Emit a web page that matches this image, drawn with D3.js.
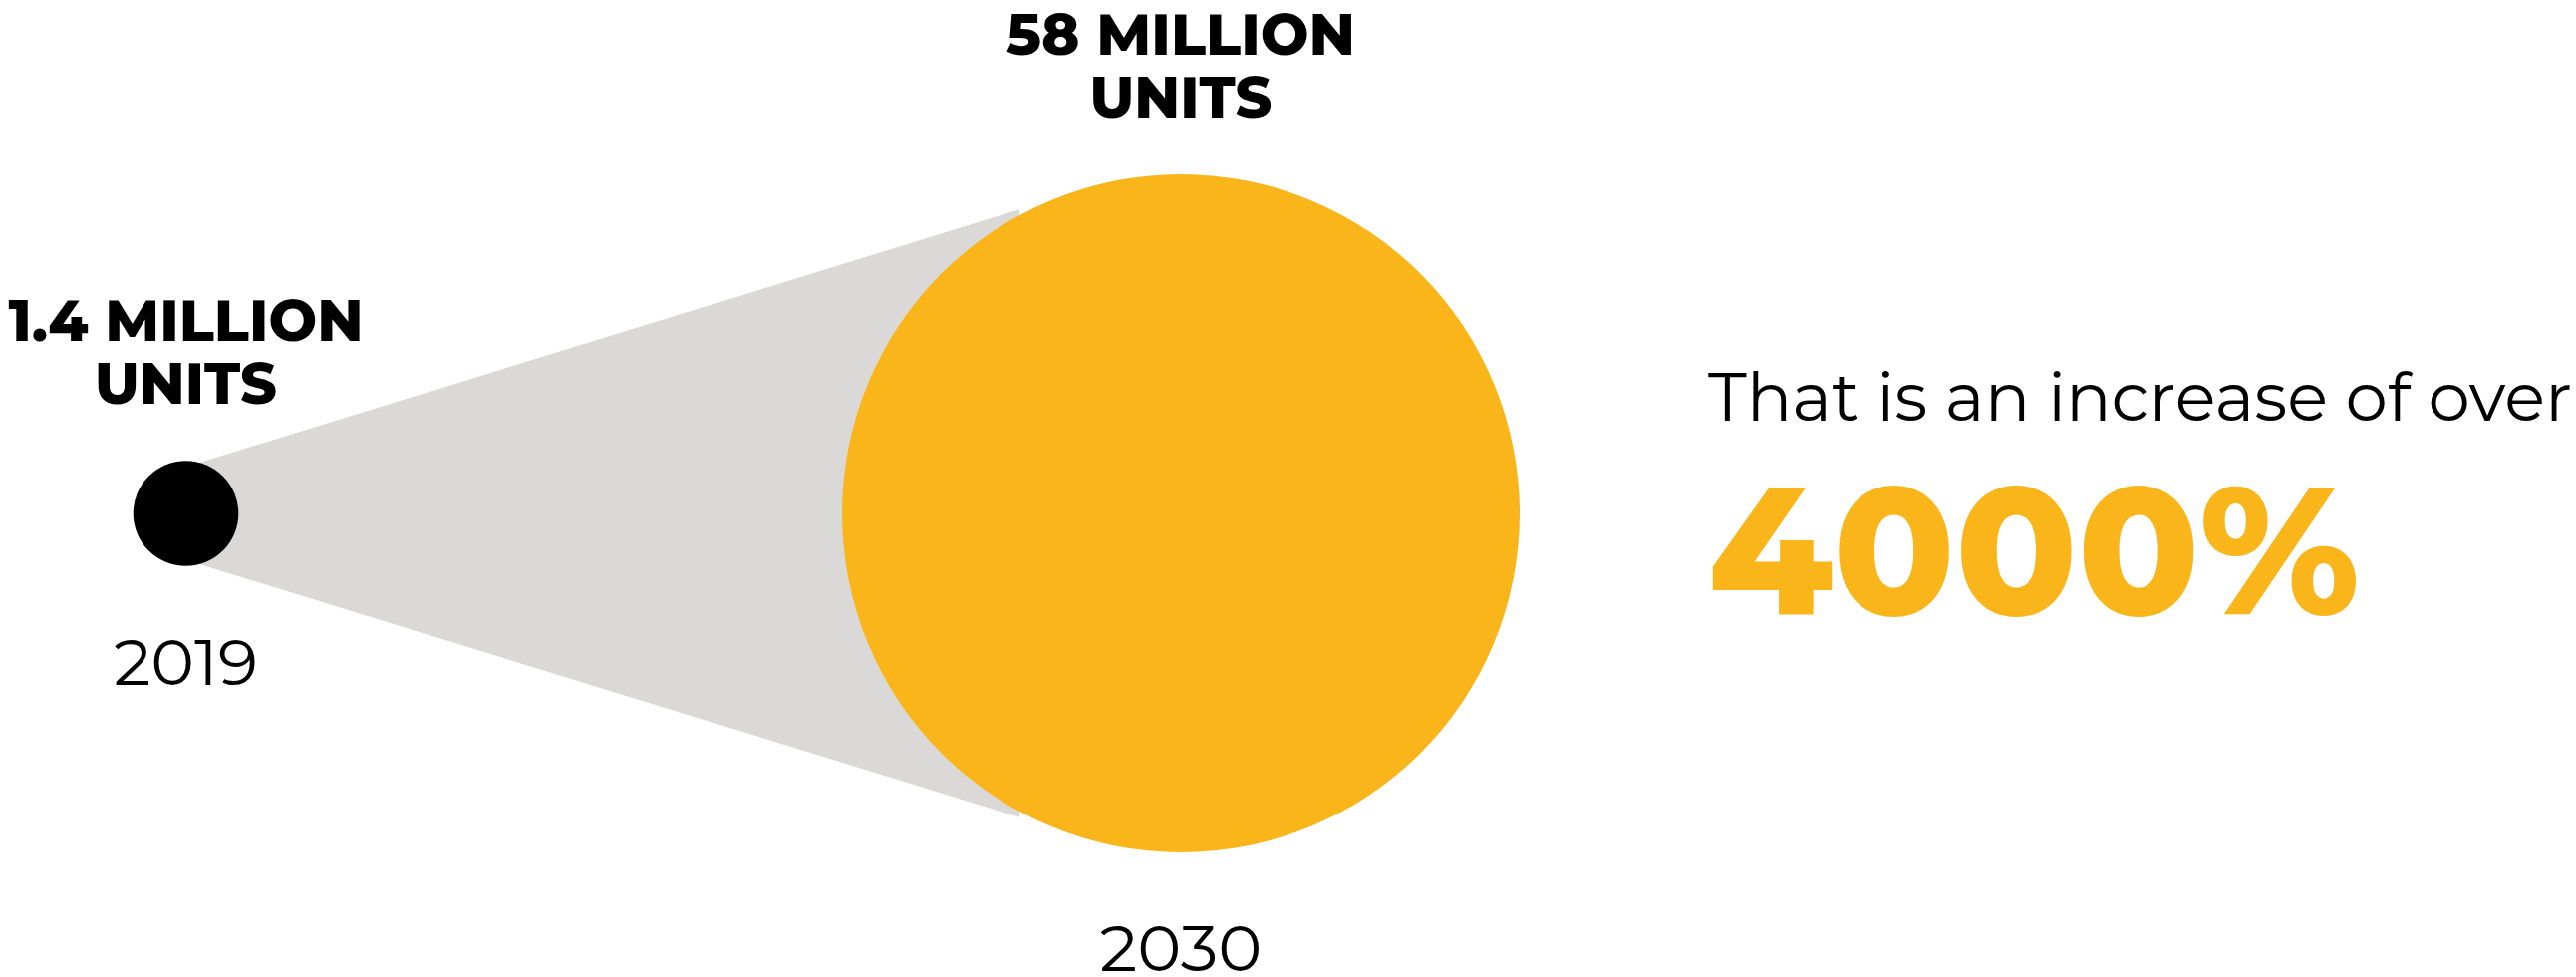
<!DOCTYPE html>
<html>
<head>
<meta charset="utf-8">
<script src="https://cdn.jsdelivr.net/npm/d3@7"></script>
<style>
  html, body { margin: 0; padding: 0; background: #fff; }
  svg { display: block; }
</style>
</head>
<body>
<div id="chart"></div>
<script>
const width = 2585;
const height = 980;

// data
const years = [2019, 2030];
const units = [1.4, 58];
const unitLabels = ['1.4 MILLION', '58 MILLION'];
const unitSuffix = 'UNITS';
const increaseText = 'That is an increase of over';
const increaseValue = '4000%';

const gold = '#f9b519';
const grey = '#dad9d7';
const boldFont = 'Montserrat, Inter, "DejaVu Sans", sans-serif';
const lightFont = 'Montserrat, Inter, "Open Sans", sans-serif';

// widths of the original (wider) typeface
const labelWidths = { '1.4 MILLION': 356, '58 MILLION': 350, 'UNITS': 183, '2019': 145, '2030': 163 };

const cy = 515;

const x = d3.scaleLinear()
  .domain(years)
  .range([186.5, 1185]);

const r = d3.scaleSqrt()
  .domain([0, d3.max(units)])
  .range([0, 340]);

const rad = deg => deg * Math.PI / 180;

const svg = d3.select('#chart').append('svg')
  .attr('width', width)
  .attr('height', height);

// the cone from the small to the big circle
const cone = () => {
  const x0 = x(years[0]), r0 = r(units[0]);
  const x1 = x(years[1]), r1 = r(units[1]) * 1.015;
  const a = rad(75), b = rad(62);
  return [
    [x0 + r0 * Math.cos(a), cy - r0 * Math.sin(a)],
    [x1 - r1 * Math.cos(b), cy - r1 * Math.sin(b)],
    [x1 - r1 * Math.cos(b), cy + r1 * Math.sin(b)],
    [x0 + r0 * Math.cos(a), cy + r0 * Math.sin(a)]
  ];
};

svg.append('path')
  .attr('d', d3.line()(cone()) + 'Z')
  .style('fill', grey);

const data = years.map((year, i) => ({ year, value: units[i], label: unitLabels[i] }));

const g = svg.selectAll('.bubble')
  .data(data)
  .enter()
  .append('g')
    .attr('class', 'bubble');

g.append('circle')
  .attr('cx', d => x(d.year))
  .attr('cy', cy)
  .attr('r', d => r(d.value))
  .style('fill', (d, i) => i === 0 ? '#000' : gold);

const fit = sel => sel
  .attr('textLength', function () { return labelWidths[this.textContent]; })
  .attr('lengthAdjust', 'spacingAndGlyphs');

g.append('text')
  .attr('x', d => x(d.year))
  .attr('y', d => cy - r(d.value) - 57 - 63.5)
  .attr('text-anchor', 'middle')
  .style('font-family', boldFont)
  .style('font-weight', 800)
  .style('font-size', '58px')
  .text(d => d.label)
  .call(fit);

g.append('text')
  .attr('x', d => x(d.year))
  .attr('y', d => cy - r(d.value) - 57)
  .attr('text-anchor', 'middle')
  .style('font-family', boldFont)
  .style('font-weight', 800)
  .style('font-size', '58px')
  .text(unitSuffix)
  .call(fit);

g.append('text')
  .attr('x', d => x(d.year))
  .attr('y', d => cy + r(d.value) + 119)
  .attr('text-anchor', 'middle')
  .style('font-family', lightFont)
  .style('font-weight', 400)
  .style('font-size', '64px')
  .text(d => d.year)
  .call(fit);

// right-hand statement
svg.append('text')
  .attr('x', 1714)
  .attr('y', 421.7)
  .style('font-family', lightFont)
  .style('font-weight', 400)
  .style('font-size', '67px')
  .attr('textLength', 867)
  .attr('lengthAdjust', 'spacingAndGlyphs')
  .text(increaseText);

svg.append('text')
  .attr('x', 1714)
  .attr('y', 616)
  .style('font-family', boldFont)
  .style('font-weight', 800)
  .style('font-size', '181px')
  .style('fill', gold)
  .attr('textLength', 654)
  .attr('lengthAdjust', 'spacingAndGlyphs')
  .text(increaseValue);
</script>
</body>
</html>
